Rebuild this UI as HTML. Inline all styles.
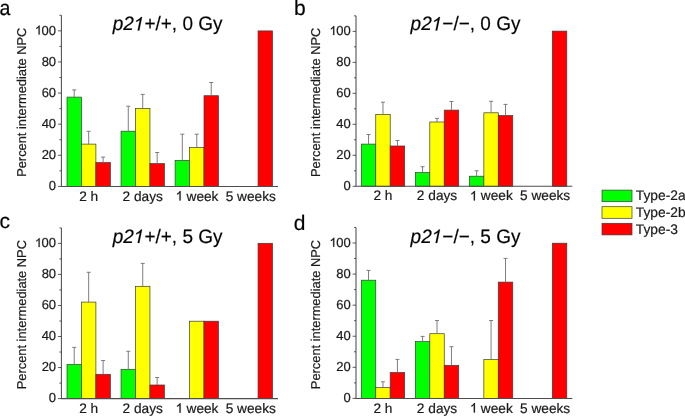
<!DOCTYPE html>
<html><head><meta charset="utf-8"><style>
html,body{margin:0;padding:0;background:#fff;}
svg{display:block;will-change:transform;}
text{font-family:"Liberation Sans", sans-serif;fill:#1a1a1a;stroke:#1a1a1a;stroke-width:0.2px;text-rendering:geometricPrecision;}
.one{stroke:#1a1a1a;stroke-width:0.2px;}
.t{font-size:13px;}
.x{font-size:13.7px;}
.yl{font-size:12.85px;}
.g{font-size:13.8px;}
.L{font-size:21px;fill:#000;}
.T{font-size:19px;fill:#000;}
</style></head><body>
<svg width="685" height="416" viewBox="0 0 685 416">
<rect width="685" height="416" fill="#fff"/>
<rect x="67.00" y="97.10" width="14.45" height="89.30" fill="#00ff00" stroke="#3a3a3a" stroke-width="0.7"/>
<path d="M74.22 97.10V89.90M72.22 89.90H76.22" stroke="#707070" stroke-width="0.9" fill="none"/>
<rect x="81.45" y="144.10" width="14.45" height="42.30" fill="#ffff00" stroke="#3a3a3a" stroke-width="0.7"/>
<path d="M88.67 144.10V131.30M86.67 131.30H90.67" stroke="#707070" stroke-width="0.9" fill="none"/>
<rect x="95.90" y="162.60" width="14.45" height="23.80" fill="#ff0000" stroke="#3a3a3a" stroke-width="0.7"/>
<path d="M103.12 162.60V157.10M101.12 157.10H105.12" stroke="#707070" stroke-width="0.9" fill="none"/>
<rect x="121.05" y="131.20" width="14.45" height="55.20" fill="#00ff00" stroke="#3a3a3a" stroke-width="0.7"/>
<path d="M128.28 131.20V106.20M126.28 106.20H130.28" stroke="#707070" stroke-width="0.9" fill="none"/>
<rect x="135.50" y="108.40" width="14.45" height="78.00" fill="#ffff00" stroke="#3a3a3a" stroke-width="0.7"/>
<path d="M142.72 108.40V94.40M140.72 94.40H144.72" stroke="#707070" stroke-width="0.9" fill="none"/>
<rect x="149.95" y="163.60" width="14.45" height="22.80" fill="#ff0000" stroke="#3a3a3a" stroke-width="0.7"/>
<path d="M157.17 163.60V152.50M155.17 152.50H159.17" stroke="#707070" stroke-width="0.9" fill="none"/>
<rect x="175.10" y="160.40" width="14.45" height="26.00" fill="#00ff00" stroke="#3a3a3a" stroke-width="0.7"/>
<path d="M182.32 160.40V134.20M180.32 134.20H184.32" stroke="#707070" stroke-width="0.9" fill="none"/>
<rect x="189.55" y="147.40" width="14.45" height="39.00" fill="#ffff00" stroke="#3a3a3a" stroke-width="0.7"/>
<path d="M196.77 147.40V134.20M194.77 134.20H198.77" stroke="#707070" stroke-width="0.9" fill="none"/>
<rect x="204.00" y="95.70" width="14.45" height="90.70" fill="#ff0000" stroke="#3a3a3a" stroke-width="0.7"/>
<path d="M211.22 95.70V82.50M209.22 82.50H213.22" stroke="#707070" stroke-width="0.9" fill="none"/>
<rect x="258.05" y="30.90" width="14.45" height="155.50" fill="#ff0000" stroke="#3a3a3a" stroke-width="0.7"/>
<path d="M61.40 15.29V186.40H278.00" stroke="#4d4d4d" stroke-width="1.05" fill="none"/>
<path d="M58.00 186.40H61.40M59.40 170.84H61.40M58.00 155.29H61.40M59.40 139.74H61.40M58.00 124.18H61.40M59.40 108.62H61.40M58.00 93.07H61.40M59.40 77.52H61.40M58.00 61.96H61.40M59.40 46.41H61.40M58.00 30.85H61.40M59.40 15.29H61.40" stroke="#333" stroke-width="0.8" fill="none"/>
<text x="56.10" y="190.10" text-anchor="end" class="t">0</text>
<text x="56.10" y="158.99" text-anchor="end" class="t">20</text>
<text x="56.10" y="127.88" text-anchor="end" class="t">40</text>
<text x="56.10" y="96.77" text-anchor="end" class="t">60</text>
<text x="56.10" y="65.66" text-anchor="end" class="t">80</text>
<text id="o1" x="56.10" y="34.55" text-anchor="end" class="t"> 00</text>
<text x="88.67" y="200.50" text-anchor="middle" class="x">2 h</text>
<text x="142.72" y="200.50" text-anchor="middle" class="x">2 days</text>
<text id="o2" x="196.77" y="200.50" text-anchor="middle" class="x">  week</text>
<text x="250.82" y="200.50" text-anchor="middle" class="x">5 weeks</text>
<text transform="translate(26.45,102.25) rotate(-90)" text-anchor="middle" class="yl">Percent intermediate NPC</text>
<text x="-0.4" y="14.8" class="L" textLength="10.9" lengthAdjust="spacingAndGlyphs">a</text>
<text id="o3" x="112.70" y="30.40" class="T" transform="translate(0 30.40) scale(1 1.025) translate(0 -30.40)"><tspan font-style="italic">p2 </tspan>+/+, 0 Gy</text>
<rect x="361.30" y="144.10" width="14.45" height="42.20" fill="#00ff00" stroke="#3a3a3a" stroke-width="0.7"/>
<path d="M368.53 144.10V134.50M366.53 134.50H370.53" stroke="#707070" stroke-width="0.9" fill="none"/>
<rect x="375.75" y="114.50" width="14.45" height="71.80" fill="#ffff00" stroke="#3a3a3a" stroke-width="0.7"/>
<path d="M382.98 114.50V102.20M380.98 102.20H384.98" stroke="#707070" stroke-width="0.9" fill="none"/>
<rect x="390.20" y="146.00" width="14.45" height="40.30" fill="#ff0000" stroke="#3a3a3a" stroke-width="0.7"/>
<path d="M397.43 146.00V140.50M395.43 140.50H399.43" stroke="#707070" stroke-width="0.9" fill="none"/>
<rect x="415.35" y="172.60" width="14.45" height="13.70" fill="#00ff00" stroke="#3a3a3a" stroke-width="0.7"/>
<path d="M422.58 172.60V166.70M420.58 166.70H424.58" stroke="#707070" stroke-width="0.9" fill="none"/>
<rect x="429.80" y="122.00" width="14.45" height="64.30" fill="#ffff00" stroke="#3a3a3a" stroke-width="0.7"/>
<path d="M437.03 122.00V118.40M435.03 118.40H439.03" stroke="#707070" stroke-width="0.9" fill="none"/>
<rect x="444.25" y="110.10" width="14.45" height="76.20" fill="#ff0000" stroke="#3a3a3a" stroke-width="0.7"/>
<path d="M451.48 110.10V101.50M449.48 101.50H453.48" stroke="#707070" stroke-width="0.9" fill="none"/>
<rect x="469.40" y="176.20" width="14.45" height="10.10" fill="#00ff00" stroke="#3a3a3a" stroke-width="0.7"/>
<path d="M476.62 176.20V170.80M474.62 170.80H478.62" stroke="#707070" stroke-width="0.9" fill="none"/>
<rect x="483.85" y="112.80" width="14.45" height="73.50" fill="#ffff00" stroke="#3a3a3a" stroke-width="0.7"/>
<path d="M491.07 112.80V101.30M489.07 101.30H493.07" stroke="#707070" stroke-width="0.9" fill="none"/>
<rect x="498.30" y="115.50" width="14.45" height="70.80" fill="#ff0000" stroke="#3a3a3a" stroke-width="0.7"/>
<path d="M505.52 115.50V104.40M503.52 104.40H507.52" stroke="#707070" stroke-width="0.9" fill="none"/>
<rect x="552.35" y="31.10" width="14.45" height="155.20" fill="#ff0000" stroke="#3a3a3a" stroke-width="0.7"/>
<path d="M356.00 15.85V186.30H572.30" stroke="#4d4d4d" stroke-width="1.05" fill="none"/>
<path d="M352.60 186.30H356.00M354.00 170.81H356.00M352.60 155.31H356.00M354.00 139.81H356.00M352.60 124.32H356.00M354.00 108.83H356.00M352.60 93.33H356.00M354.00 77.84H356.00M352.60 62.34H356.00M354.00 46.84H356.00M352.60 31.35H356.00M354.00 15.85H356.00" stroke="#333" stroke-width="0.8" fill="none"/>
<text x="350.70" y="190.00" text-anchor="end" class="t">0</text>
<text x="350.70" y="159.01" text-anchor="end" class="t">20</text>
<text x="350.70" y="128.02" text-anchor="end" class="t">40</text>
<text x="350.70" y="97.03" text-anchor="end" class="t">60</text>
<text x="350.70" y="66.04" text-anchor="end" class="t">80</text>
<text id="o4" x="350.70" y="35.05" text-anchor="end" class="t"> 00</text>
<text x="382.98" y="200.40" text-anchor="middle" class="x">2 h</text>
<text x="437.03" y="200.40" text-anchor="middle" class="x">2 days</text>
<text id="o5" x="491.07" y="200.40" text-anchor="middle" class="x">  week</text>
<text x="545.12" y="200.40" text-anchor="middle" class="x">5 weeks</text>
<text transform="translate(320.20,102.35) rotate(-90)" text-anchor="middle" class="yl">Percent intermediate NPC</text>
<text x="294.0" y="15" class="L">b</text>
<text id="o6" x="410.60" y="30.40" class="T" transform="translate(0 30.40) scale(1 1.025) translate(0 -30.40)"><tspan font-style="italic">p2 </tspan>−/−, 0 Gy</text>
<rect x="67.00" y="364.50" width="14.45" height="34.10" fill="#00ff00" stroke="#3a3a3a" stroke-width="0.7"/>
<path d="M74.22 364.50V347.40M72.22 347.40H76.22" stroke="#707070" stroke-width="0.9" fill="none"/>
<rect x="81.45" y="302.10" width="14.45" height="96.50" fill="#ffff00" stroke="#3a3a3a" stroke-width="0.7"/>
<path d="M88.67 302.10V272.30M86.67 272.30H90.67" stroke="#707070" stroke-width="0.9" fill="none"/>
<rect x="95.90" y="374.30" width="14.45" height="24.30" fill="#ff0000" stroke="#3a3a3a" stroke-width="0.7"/>
<path d="M103.12 374.30V360.50M101.12 360.50H105.12" stroke="#707070" stroke-width="0.9" fill="none"/>
<rect x="121.05" y="369.30" width="14.45" height="29.30" fill="#00ff00" stroke="#3a3a3a" stroke-width="0.7"/>
<path d="M128.28 369.30V351.30M126.28 351.30H130.28" stroke="#707070" stroke-width="0.9" fill="none"/>
<rect x="135.50" y="286.30" width="14.45" height="112.30" fill="#ffff00" stroke="#3a3a3a" stroke-width="0.7"/>
<path d="M142.72 286.30V263.40M140.72 263.40H144.72" stroke="#707070" stroke-width="0.9" fill="none"/>
<rect x="149.95" y="385.00" width="14.45" height="13.60" fill="#ff0000" stroke="#3a3a3a" stroke-width="0.7"/>
<path d="M157.17 385.00V377.50M155.17 377.50H159.17" stroke="#707070" stroke-width="0.9" fill="none"/>
<rect x="189.55" y="321.20" width="14.45" height="77.40" fill="#ffff00" stroke="#3a3a3a" stroke-width="0.7"/>
<rect x="204.00" y="321.20" width="14.45" height="77.40" fill="#ff0000" stroke="#3a3a3a" stroke-width="0.7"/>
<rect x="258.05" y="243.30" width="14.45" height="155.30" fill="#ff0000" stroke="#3a3a3a" stroke-width="0.7"/>
<path d="M61.40 227.88V398.60H278.00" stroke="#4d4d4d" stroke-width="1.05" fill="none"/>
<path d="M58.00 398.60H61.40M59.40 383.08H61.40M58.00 367.56H61.40M59.40 352.04H61.40M58.00 336.52H61.40M59.40 321.00H61.40M58.00 305.48H61.40M59.40 289.96H61.40M58.00 274.44H61.40M59.40 258.92H61.40M58.00 243.40H61.40M59.40 227.88H61.40" stroke="#333" stroke-width="0.8" fill="none"/>
<text x="56.10" y="402.30" text-anchor="end" class="t">0</text>
<text x="56.10" y="371.26" text-anchor="end" class="t">20</text>
<text x="56.10" y="340.22" text-anchor="end" class="t">40</text>
<text x="56.10" y="309.18" text-anchor="end" class="t">60</text>
<text x="56.10" y="278.14" text-anchor="end" class="t">80</text>
<text id="o7" x="56.10" y="247.10" text-anchor="end" class="t"> 00</text>
<text x="88.67" y="412.70" text-anchor="middle" class="x">2 h</text>
<text x="142.72" y="412.70" text-anchor="middle" class="x">2 days</text>
<text id="o8" x="196.77" y="412.70" text-anchor="middle" class="x">  week</text>
<text x="250.82" y="412.70" text-anchor="middle" class="x">5 weeks</text>
<text transform="translate(26.45,314.65) rotate(-90)" text-anchor="middle" class="yl">Percent intermediate NPC</text>
<text x="-0.6" y="227.6" class="L">c</text>
<text id="o9" x="112.70" y="242.90" class="T" transform="translate(0 242.90) scale(1 1.025) translate(0 -242.90)"><tspan font-style="italic">p2 </tspan>+/+, 5 Gy</text>
<rect x="361.30" y="280.20" width="14.45" height="118.20" fill="#00ff00" stroke="#3a3a3a" stroke-width="0.7"/>
<path d="M368.53 280.20V270.40M366.53 270.40H370.53" stroke="#707070" stroke-width="0.9" fill="none"/>
<rect x="375.75" y="387.60" width="14.45" height="10.80" fill="#ffff00" stroke="#3a3a3a" stroke-width="0.7"/>
<path d="M382.98 387.60V381.80M380.98 381.80H384.98" stroke="#707070" stroke-width="0.9" fill="none"/>
<rect x="390.20" y="372.50" width="14.45" height="25.90" fill="#ff0000" stroke="#3a3a3a" stroke-width="0.7"/>
<path d="M397.43 372.50V359.40M395.43 359.40H399.43" stroke="#707070" stroke-width="0.9" fill="none"/>
<rect x="415.35" y="341.60" width="14.45" height="56.80" fill="#00ff00" stroke="#3a3a3a" stroke-width="0.7"/>
<path d="M422.58 341.60V336.40M420.58 336.40H424.58" stroke="#707070" stroke-width="0.9" fill="none"/>
<rect x="429.80" y="333.70" width="14.45" height="64.70" fill="#ffff00" stroke="#3a3a3a" stroke-width="0.7"/>
<path d="M437.03 333.70V320.50M435.03 320.50H439.03" stroke="#707070" stroke-width="0.9" fill="none"/>
<rect x="444.25" y="365.30" width="14.45" height="33.10" fill="#ff0000" stroke="#3a3a3a" stroke-width="0.7"/>
<path d="M451.48 365.30V346.70M449.48 346.70H453.48" stroke="#707070" stroke-width="0.9" fill="none"/>
<rect x="483.85" y="359.50" width="14.45" height="38.90" fill="#ffff00" stroke="#3a3a3a" stroke-width="0.7"/>
<path d="M491.07 359.50V320.50M489.07 320.50H493.07" stroke="#707070" stroke-width="0.9" fill="none"/>
<rect x="498.30" y="282.10" width="14.45" height="116.30" fill="#ff0000" stroke="#3a3a3a" stroke-width="0.7"/>
<path d="M505.52 282.10V258.40M503.52 258.40H507.52" stroke="#707070" stroke-width="0.9" fill="none"/>
<rect x="552.35" y="243.20" width="14.45" height="155.20" fill="#ff0000" stroke="#3a3a3a" stroke-width="0.7"/>
<path d="M356.00 227.46V398.40H572.30" stroke="#4d4d4d" stroke-width="1.05" fill="none"/>
<path d="M352.60 398.40H356.00M354.00 382.86H356.00M352.60 367.32H356.00M354.00 351.78H356.00M352.60 336.24H356.00M354.00 320.70H356.00M352.60 305.16H356.00M354.00 289.62H356.00M352.60 274.08H356.00M354.00 258.54H356.00M352.60 243.00H356.00M354.00 227.46H356.00" stroke="#333" stroke-width="0.8" fill="none"/>
<text x="350.70" y="402.10" text-anchor="end" class="t">0</text>
<text x="350.70" y="371.02" text-anchor="end" class="t">20</text>
<text x="350.70" y="339.94" text-anchor="end" class="t">40</text>
<text x="350.70" y="308.86" text-anchor="end" class="t">60</text>
<text x="350.70" y="277.78" text-anchor="end" class="t">80</text>
<text id="o10" x="350.70" y="246.70" text-anchor="end" class="t"> 00</text>
<text x="382.98" y="412.50" text-anchor="middle" class="x">2 h</text>
<text x="437.03" y="412.50" text-anchor="middle" class="x">2 days</text>
<text id="o11" x="491.07" y="412.50" text-anchor="middle" class="x">  week</text>
<text x="545.12" y="412.50" text-anchor="middle" class="x">5 weeks</text>
<text transform="translate(320.20,314.55) rotate(-90)" text-anchor="middle" class="yl">Percent intermediate NPC</text>
<text x="293.8" y="229.6" class="L">d</text>
<text id="o12" x="410.60" y="242.90" class="T" transform="translate(0 242.90) scale(1 1.025) translate(0 -242.90)"><tspan font-style="italic">p2 </tspan>−/−, 5 Gy</text>
<rect x="602" y="190.1" width="30" height="11.6" fill="#00ff00" stroke="#3a3a3a" stroke-width="0.7"/>
<text x="635.8" y="200.30" class="g">Type-2a</text>
<rect x="602" y="206.7" width="30" height="11.6" fill="#ffff00" stroke="#3a3a3a" stroke-width="0.7"/>
<text x="635.8" y="216.90" class="g">Type-2b</text>
<rect x="602" y="223.3" width="30" height="11.6" fill="#ff0000" stroke="#3a3a3a" stroke-width="0.7"/>
<text x="635.8" y="233.50" class="g">Type-3</text>
<path class="one" vector-effect="non-scaling-stroke" d="M583 0L763 0L763 1409L646 1409C600 1320 520 1240 430 1171C350 1113 280 1074 223 1049L223 882C290 906 370 945 440 988C500 1025 550 1063 583 1103Z" fill="#1a1a1a" transform="translate(34.40 34.55) scale(1 1.0) scale(0.006348 -0.006348) translate(70 0)"/>
<path class="one" vector-effect="non-scaling-stroke" d="M583 0L763 0L763 1409L646 1409C600 1320 520 1240 430 1171C350 1113 280 1074 223 1049L223 882C290 906 370 945 440 988C500 1025 550 1063 583 1103Z" fill="#1a1a1a" transform="translate(175.08 200.50) scale(1 1.0) scale(0.006689 -0.006689) translate(70 0)"/>
<path class="one" vector-effect="non-scaling-stroke" d="M583 0L763 0L763 1409L646 1409C600 1320 520 1240 430 1171C350 1113 280 1074 223 1049L223 882C290 906 370 945 440 988C500 1025 550 1063 583 1103Z" fill="#000" transform="translate(133.82 30.40) scale(1 1.025) skewX(-12) scale(0.009277 -0.009277) translate(-172 0)"/>
<path class="one" vector-effect="non-scaling-stroke" d="M583 0L763 0L763 1409L646 1409C600 1320 520 1240 430 1171C350 1113 280 1074 223 1049L223 882C290 906 370 945 440 988C500 1025 550 1063 583 1103Z" fill="#1a1a1a" transform="translate(329.00 35.05) scale(1 1.0) scale(0.006348 -0.006348) translate(70 0)"/>
<path class="one" vector-effect="non-scaling-stroke" d="M583 0L763 0L763 1409L646 1409C600 1320 520 1240 430 1171C350 1113 280 1074 223 1049L223 882C290 906 370 945 440 988C500 1025 550 1063 583 1103Z" fill="#1a1a1a" transform="translate(469.38 200.40) scale(1 1.0) scale(0.006689 -0.006689) translate(70 0)"/>
<path class="one" vector-effect="non-scaling-stroke" d="M583 0L763 0L763 1409L646 1409C600 1320 520 1240 430 1171C350 1113 280 1074 223 1049L223 882C290 906 370 945 440 988C500 1025 550 1063 583 1103Z" fill="#000" transform="translate(431.73 30.40) scale(1 1.025) skewX(-12) scale(0.009277 -0.009277) translate(-172 0)"/>
<path class="one" vector-effect="non-scaling-stroke" d="M583 0L763 0L763 1409L646 1409C600 1320 520 1240 430 1171C350 1113 280 1074 223 1049L223 882C290 906 370 945 440 988C500 1025 550 1063 583 1103Z" fill="#1a1a1a" transform="translate(34.40 247.10) scale(1 1.0) scale(0.006348 -0.006348) translate(70 0)"/>
<path class="one" vector-effect="non-scaling-stroke" d="M583 0L763 0L763 1409L646 1409C600 1320 520 1240 430 1171C350 1113 280 1074 223 1049L223 882C290 906 370 945 440 988C500 1025 550 1063 583 1103Z" fill="#1a1a1a" transform="translate(175.08 412.70) scale(1 1.0) scale(0.006689 -0.006689) translate(70 0)"/>
<path class="one" vector-effect="non-scaling-stroke" d="M583 0L763 0L763 1409L646 1409C600 1320 520 1240 430 1171C350 1113 280 1074 223 1049L223 882C290 906 370 945 440 988C500 1025 550 1063 583 1103Z" fill="#000" transform="translate(133.82 242.90) scale(1 1.025) skewX(-12) scale(0.009277 -0.009277) translate(-172 0)"/>
<path class="one" vector-effect="non-scaling-stroke" d="M583 0L763 0L763 1409L646 1409C600 1320 520 1240 430 1171C350 1113 280 1074 223 1049L223 882C290 906 370 945 440 988C500 1025 550 1063 583 1103Z" fill="#1a1a1a" transform="translate(329.00 246.70) scale(1 1.0) scale(0.006348 -0.006348) translate(70 0)"/>
<path class="one" vector-effect="non-scaling-stroke" d="M583 0L763 0L763 1409L646 1409C600 1320 520 1240 430 1171C350 1113 280 1074 223 1049L223 882C290 906 370 945 440 988C500 1025 550 1063 583 1103Z" fill="#1a1a1a" transform="translate(469.38 412.50) scale(1 1.0) scale(0.006689 -0.006689) translate(70 0)"/>
<path class="one" vector-effect="non-scaling-stroke" d="M583 0L763 0L763 1409L646 1409C600 1320 520 1240 430 1171C350 1113 280 1074 223 1049L223 882C290 906 370 945 440 988C500 1025 550 1063 583 1103Z" fill="#000" transform="translate(431.73 242.90) scale(1 1.025) skewX(-12) scale(0.009277 -0.009277) translate(-172 0)"/>
</svg>
</body></html>
